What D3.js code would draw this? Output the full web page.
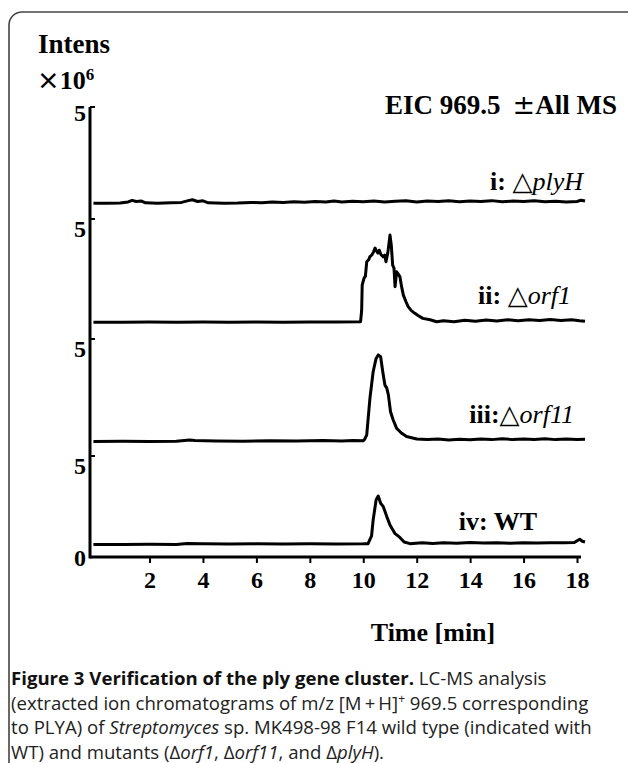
<!DOCTYPE html>
<html>
<head>
<meta charset="utf-8">
<script src="https://cdn.jsdelivr.net/npm/d3@7"></script>
<style>
  html, body { margin: 0; padding: 0; background: #fff; }
  svg text { font-family: "Liberation Serif", "Times New Roman", serif; }
  .cap { font-family: "Open Sans", "Noto Sans", sans-serif; }
</style>
</head>
<body>
<div id="chart"></div>
<script>
// time [min], intensity [x10^6]
var plyH = [[-0.1,0.70],[0.4,0.70],[0.9,0.71],[1.2,0.76],[1.35,0.83],[1.5,0.78],[1.7,0.80],[1.85,0.72],[2.3,0.70],[2.8,0.72],[3.2,0.74],[3.45,0.82],[3.6,0.86],[3.8,0.78],[4.0,0.81],[4.2,0.72],[4.8,0.70],[5.3,0.71],[5.8,0.74],[6.2,0.73],[6.6,0.76],[7.0,0.74],[7.4,0.77],[7.8,0.75],[8.2,0.78],[8.6,0.76],[8.9,0.80],[9.2,0.76],[9.6,0.79],[10.0,0.77],[10.4,0.80],[10.8,0.76],[11.2,0.79],[11.6,0.81],[12.0,0.76],[12.4,0.80],[12.8,0.78],[13.2,0.81],[13.6,0.77],[14.0,0.80],[14.4,0.78],[14.8,0.82],[15.2,0.77],[15.6,0.80],[16.0,0.78],[16.4,0.81],[16.8,0.77],[17.2,0.79],[17.6,0.76],[18.0,0.78],[18.15,0.84],[18.3,0.80]];

var orf1 = [[-0.1,0.70],[1.0,0.70],[2.0,0.71],[3.0,0.70],[4.0,0.71],[5.0,0.70],[6.0,0.71],[7.0,0.70],[8.0,0.71],[9.0,0.71],[9.9,0.72],[9.94,1.2],[9.96,2.25],[10.03,2.54],[10.08,2.62],[10.13,3.22],[10.2,3.30],[10.25,3.43],[10.32,3.50],[10.38,3.62],[10.44,3.79],[10.5,3.66],[10.55,3.58],[10.6,3.70],[10.66,3.52],[10.74,3.43],[10.8,3.50],[10.85,3.22],[10.92,3.6],[11.0,4.33],[11.05,3.9],[11.10,3.08],[11.15,2.95],[11.19,2.18],[11.25,2.80],[11.31,2.70],[11.37,2.60],[11.44,2.15],[11.50,1.83],[11.6,1.55],[11.68,1.35],[11.8,1.18],[11.93,1.07],[12.05,0.98],[12.23,0.86],[12.5,0.80],[12.75,0.72],[13.0,0.76],[13.4,0.72],[13.8,0.78],[14.2,0.74],[14.6,0.79],[15.0,0.75],[15.4,0.80],[15.8,0.76],[16.2,0.80],[16.6,0.77],[17.0,0.81],[17.4,0.77],[17.8,0.80],[18.1,0.76],[18.3,0.74]];

var orf11 = [[-0.1,0.62],[1.0,0.63],[2.0,0.62],[3.0,0.63],[3.5,0.68],[3.7,0.66],[4.5,0.64],[5.5,0.63],[6.5,0.65],[7.5,0.64],[8.5,0.66],[9.2,0.64],[9.6,0.66],[10.0,0.65],[10.06,0.73],[10.13,0.9],[10.25,2.47],[10.37,3.6],[10.48,4.17],[10.56,4.32],[10.65,4.24],[10.73,3.6],[10.81,3.03],[10.88,2.9],[10.94,2.61],[11.02,1.89],[11.12,1.54],[11.25,1.18],[11.34,1.08],[11.44,0.97],[11.62,0.83],[12.0,0.73],[12.4,0.70],[12.8,0.73],[13.2,0.68],[13.6,0.72],[14.0,0.69],[14.4,0.73],[14.8,0.70],[15.2,0.74],[15.6,0.70],[16.0,0.73],[16.4,0.71],[16.8,0.74],[17.2,0.70],[17.6,0.73],[18.0,0.71],[18.3,0.72]];

var wildType = [[-0.1,0.62],[1.0,0.62],[2.0,0.63],[3.0,0.62],[3.4,0.67],[4.0,0.65],[5.0,0.64],[6.0,0.65],[7.0,0.64],[8.0,0.65],[9.0,0.64],[10.0,0.65],[10.18,0.66],[10.31,1.04],[10.37,1.83],[10.48,2.82],[10.56,3.02],[10.61,2.82],[10.65,2.66],[10.75,2.49],[10.88,2.0],[11.0,1.58],[11.18,1.17],[11.37,0.97],[11.53,0.74],[11.75,0.66],[12.2,0.70],[12.6,0.67],[13.0,0.70],[13.5,0.68],[14.0,0.72],[14.5,0.69],[15.0,0.71],[15.5,0.68],[16.0,0.71],[16.5,0.69],[17.0,0.71],[17.5,0.70],[17.9,0.72],[18.1,0.88],[18.2,0.78],[18.3,0.74]];

var traces = [plyH, orf1, orf11, wildType];
var labelPrefix = ["i: ", "ii: ", "iii:", "iv: "];
var labelGene = ["plyH", "orf1", "orf11", null];
var xTicks = [2, 4, 6, 8, 10, 12, 14, 16, 18];
var yTickTop = 5;

var width = 628, height = 763;
var svg = d3.select("#chart").append("svg")
    .attr("width", width).attr("height", height);

// frame
svg.append("rect")
    .attr("x", 9).attr("y", 12).attr("width", 640).attr("height", 780)
    .attr("rx", 13).attr("ry", 13)
    .attr("fill", "none").attr("stroke", "#444").attr("stroke-width", 1.6);

var axisLeft = 90, axisBottom = 557;
var xScale = d3.scaleLinear().domain([0, 18]).range([96.1, 577]);

// one strip per trace: [bottom, top] of each
var strips = [[219, 107], [339, 219], [456, 339], [557, 456]];
var labelPos = [[583, 190], [571, 304], [574, 423], [537, 530]];

var line = d3.line().curve(d3.curveLinear);

traces.forEach(function(data, i) {
    var y = d3.scaleLinear().domain([0, yTickTop]).range(strips[i]);
    line.x(function(d) { return xScale(d[0]); }).y(function(d) { return y(d[1]); });
    svg.append("path")
        .attr("d", line(data))
        .attr("fill", "none").attr("stroke", "#000")
        .attr("stroke-width", 3).attr("stroke-linejoin", "round");

    // "5" tick of the strip
    svg.append("line")
        .attr("x1", axisLeft).attr("x2", axisLeft + 5)
        .attr("y1", y(yTickTop)).attr("y2", y(yTickTop))
        .attr("stroke", "#000").attr("stroke-width", 2);
    svg.append("text")
        .attr("x", 80).attr("y", y(yTickTop) + (i === 0 ? 14 : 18))
        .attr("text-anchor", "middle")
        .attr("font-size", 24).attr("font-weight", "bold")
        .text(yTickTop);

    var t = svg.append("text")
        .attr("x", labelPos[i][0]).attr("y", labelPos[i][1])
        .attr("text-anchor", "end").attr("font-size", 26);
    t.append("tspan").attr("font-weight", "bold").text(labelPrefix[i]);
    if (labelGene[i]) {
        t.append("tspan").attr("font-family", "DejaVu Sans").attr("font-weight", "normal")
            .attr("font-size", 26).text("\u25B3");
        t.append("tspan").attr("font-style", "italic").text(labelGene[i]);
    } else {
        t.append("tspan").attr("font-weight", "bold").text("WT");
    }
});

// axes
svg.append("line")
    .attr("x1", axisLeft).attr("x2", axisLeft)
    .attr("y1", 107).attr("y2", axisBottom + 1.5)
    .attr("stroke", "#000").attr("stroke-width", 3);

var xAxis = d3.axisBottom(xScale).tickValues(xTicks).tickSize(6).tickSizeOuter(0).tickPadding(8);
var gx = svg.append("g")
    .attr("transform", "translate(0," + axisBottom + ")")
    .call(xAxis);
gx.select(".domain").remove();
gx.append("line")
    .attr("x1", axisLeft).attr("x2", 581).attr("y1", 0).attr("y2", 0)
    .attr("stroke", "#000").attr("stroke-width", 3);
gx.selectAll(".tick line").attr("stroke", "#000").attr("stroke-width", 2);
gx.selectAll(".tick text")
    .attr("font-family", "Liberation Serif, Times New Roman, serif")
    .attr("font-size", 24).attr("font-weight", "bold").attr("fill", "#000");

svg.append("text")
    .attr("x", 80).attr("y", axisBottom + 9)
    .attr("text-anchor", "middle")
    .attr("font-size", 24).attr("font-weight", "bold")
    .text("0");

svg.append("text")
    .attr("x", 433).attr("y", 641)
    .attr("text-anchor", "middle")
    .attr("font-size", 26).attr("font-weight", "bold")
    .text("Time [min]");

// top-left unit label
svg.append("text")
    .attr("x", 38).attr("y", 53)
    .attr("font-size", 27).attr("font-weight", "bold")
    .text("Intens");
var unit = svg.append("text")
    .attr("x", 37).attr("y", 89)
    .attr("font-size", 26);
unit.append("tspan").attr("font-family", "DejaVu Sans").attr("font-weight", "normal")
    .attr("font-size", 27).text("\u00D7");
unit.append("tspan").attr("font-weight", "bold").text("10");
unit.append("tspan").attr("font-weight", "bold").attr("font-size", 17).attr("dy", -9).text("6");

var eic = svg.append("text")
    .attr("x", 617).attr("y", 114)
    .attr("text-anchor", "end")
    .attr("font-size", 27);
eic.append("tspan").attr("font-weight", "bold").text("EIC 969.5");
eic.append("tspan").attr("dx", 12).attr("font-family", "DejaVu Sans").attr("font-weight", "normal")
    .attr("font-size", 27).text("\u00B1");
eic.append("tspan").attr("font-weight", "bold").text("All MS");

// caption
var capLines = [
    [["b", "Figure 3 Verification of the ply gene cluster."], ["n", " LC-MS analysis"]],
    [["n", "(extracted ion chromatograms of m/z [M\u2009+\u2009H]"], ["sup", "+"], ["n", " 969.5 corresponding"]],
    [["n", "to PLYA) of "], ["i", "Streptomyces"], ["n", " sp. MK498-98 F14 wild type (indicated with"]],
    [["n", "WT) and mutants (\u0394"], ["i", "orf1"], ["n", ", \u0394"], ["i", "orf11"], ["n", ", and \u0394"], ["i", "plyH"], ["n", ")."]]
];
capLines.forEach(function(parts, k) {
    var t = svg.append("text")
        .attr("class", "cap")
        .attr("x", 11).attr("y", 685 + k * 24.5)
        .attr("font-size", 18.6).attr("fill", "#222");
    var afterSup = false;
    parts.forEach(function(p) {
        var s = t.append("tspan").text(p[1]);
        if (p[0] === "b") s.attr("font-weight", "bold").attr("fill", "#111");
        if (p[0] === "i") s.attr("font-style", "italic");
        if (p[0] === "sup") s.attr("font-size", 12).attr("dy", -7);
        if (afterSup) s.attr("dy", 7);
        afterSup = p[0] === "sup";
    });
});
</script>
</body>
</html>
